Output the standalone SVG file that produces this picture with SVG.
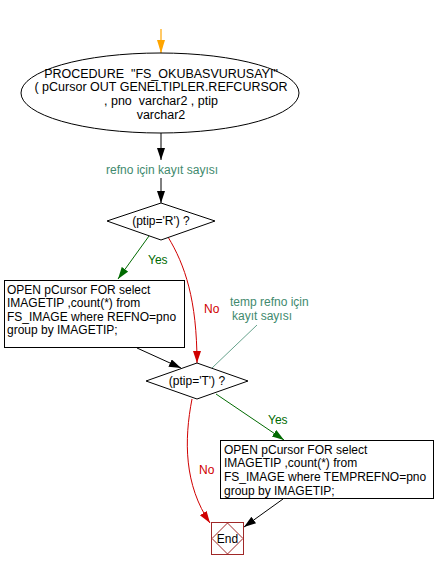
<svg xmlns="http://www.w3.org/2000/svg" width="436" height="569" viewBox="0 0 436 569">
<style>
text{font-family:"Liberation Sans",Arial,sans-serif;font-size:12px;white-space:pre;}
.c{text-anchor:middle;}
.big{font-size:12.5px;}
.node{fill:#fff;stroke:#000;stroke-width:1;}
.blk{stroke:#000;fill:none;}
.grn{stroke:#006a00;fill:none;}
.red{stroke:#d00000;fill:none;}
.teal{stroke:#3f8a6e;fill:none;stroke-width:0.8;}
.tg{fill:#006a00;}
.tr{fill:#d00000;}
.tt{fill:#3f8a6e;}
</style>
<defs>
<marker id="ab" markerUnits="userSpaceOnUse" markerWidth="13" markerHeight="9" refX="12" refY="4" orient="auto"><path d="M0,0 L12,4 L0,8 z" fill="#000"/></marker>
<marker id="ag" markerUnits="userSpaceOnUse" markerWidth="13" markerHeight="9" refX="12" refY="4" orient="auto"><path d="M0,0 L12,4 L0,8 z" fill="#006a00"/></marker>
<marker id="ar" markerUnits="userSpaceOnUse" markerWidth="13" markerHeight="9" refX="12" refY="4" orient="auto"><path d="M0,0 L12,4 L0,8 z" fill="#d00000"/></marker>
<marker id="ao" markerUnits="userSpaceOnUse" markerWidth="14" markerHeight="9" refX="13" refY="4" orient="auto"><path d="M0,0 L13,4 L0,8 z" fill="#ffa500"/></marker>
</defs>
<rect width="436" height="569" fill="#fff"/>
<g id="connectors">
<line x1="161" y1="29" x2="161" y2="53" stroke="#ffa500" stroke-width="1.2" marker-end="url(#ao)"/>
<line class="blk" x1="161" y1="133" x2="161" y2="160" marker-end="url(#ab)"/>
<line class="blk" x1="161" y1="178" x2="161" y2="203" marker-end="url(#ab)"/>
<line class="grn" x1="149" y1="236" x2="118" y2="279" marker-end="url(#ag)"/>
<path class="red" d="M168,237 C185,265 197,300 197,363" marker-end="url(#ar)"/>
<line class="blk" x1="137" y1="348" x2="181" y2="368" marker-end="url(#ab)"/>
<line class="teal" x1="257" y1="325" x2="212" y2="368"/>
<line class="grn" x1="216" y1="394" x2="284" y2="440" marker-end="url(#ag)"/>
<path class="red" d="M192,399 C184,440 184,485 210,523" marker-end="url(#ar)"/>
<line class="blk" x1="283" y1="499" x2="244" y2="527" marker-end="url(#ab)"/>
<text class="tg" x="148" y="264">Yes</text>
<text class="tr" x="204" y="313">No</text>
<text class="tg" x="268" y="424">Yes</text>
<text class="tr" x="199" y="474">No</text>
</g>
<g id="start">
<ellipse class="node" cx="160" cy="93" rx="139" ry="40"/>
<text class="c big" x="161" y="78" xml:space="preserve">PROCEDURE  "FS_OKUBASVURUSAYI"</text>
<text class="c big" x="161" y="91">( pCursor OUT GENELTIPLER.REFCURSOR</text>
<text class="c big" x="161" y="105" xml:space="preserve">, pno  varchar2 , ptip</text>
<text class="c big" x="161" y="119">varchar2</text>
</g>
<g id="label1">
<text class="tt" x="106" y="174">refno için kayıt sayısı</text>
</g>
<g id="dec1">
<polygon class="node" points="161,203 215,221 161,240 107,221"/>
<text class="c" x="161" y="225">(ptip='R') ?</text>
</g>
<g id="box1">
<rect class="node" x="4.5" y="280.5" width="180" height="67"/>
<text x="7" y="294">OPEN pCursor FOR select</text>
<text x="7" y="307">IMAGETIP ,count(*) from</text>
<text x="7" y="321">FS_IMAGE where REFNO=pno</text>
<text x="7" y="334">group by IMAGETIP;</text>
</g>
<g id="note2">
<text class="tt" x="230" y="306">temp refno için</text>
<text class="tt" x="232" y="320">kayıt sayısı</text>
</g>
<g id="dec2">
<polygon class="node" points="197,363 248,381 197,399 146,381"/>
<text class="c" x="197" y="385">(ptip='T') ?</text>
</g>
<g id="box2">
<rect class="node" x="220.5" y="440.5" width="213" height="58"/>
<text x="224" y="454">OPEN pCursor FOR select</text>
<text x="224" y="467">IMAGETIP ,count(*) from</text>
<text x="224" y="481">FS_IMAGE where TEMPREFNO=pno</text>
<text x="224" y="495">group by IMAGETIP;</text>
</g>
<g id="end">
<rect x="211.5" y="522.5" width="32" height="32" fill="#fff" stroke="#a02828"/>
<polygon points="227.5,523 243,538.5 227.5,554 212,538.5" fill="none" stroke="#a02828"/>
<text class="c" x="227.5" y="543">End</text>
</g>
</svg>
